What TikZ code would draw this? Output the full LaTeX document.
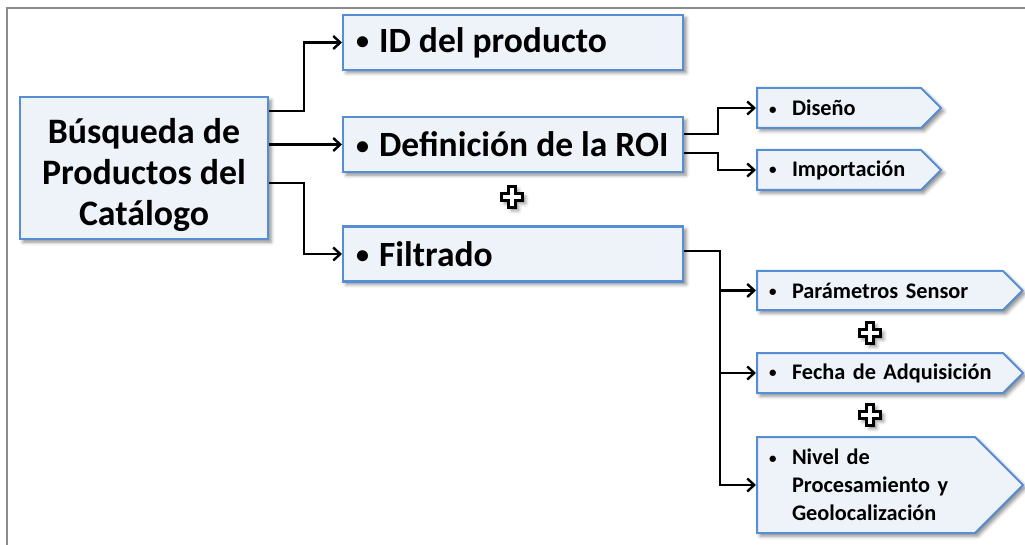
\documentclass[tikz,border=0pt]{standalone}
\usepackage{fontspec}
\setmainfont{Carlito}
\usetikzlibrary{arrows.meta,shapes.symbols,shadows.blur}
\definecolor{boxblue}{RGB}{85,142,213}
\definecolor{boxfill}{RGB}{238,243,250}
\definecolor{framegray}{RGB}{140,140,140}
\tikzset{
 shad/.style={blur shadow={shadow xshift=3pt,shadow yshift=-3pt,shadow blur radius=3.5pt,shadow opacity=45}},
 mainbox/.style={draw=boxblue,fill=boxfill,line width=2.2pt,shad,minimum width=248pt,minimum height=142pt},
 maintext/.style={align=center,inner sep=0pt,font=\fontsize{35.8}{41}\selectfont\bfseries},
 bigbox/.style={draw=boxblue,fill=boxfill,line width=2.2pt,shad,anchor=west,minimum height=55pt,inner xsep=13pt,font=\fontsize{35.5}{40}\selectfont\bfseries},
 sigbox/.style={shape=signal,signal to=east,signal pointer angle=90,draw=boxblue,fill=boxfill,line width=2pt,shad,anchor=west,inner xsep=12pt,inner ysep=2pt,align=left,font=\fontsize{22.3}{28}\selectfont\bfseries},
 conn/.style={line width=2.4pt,-{Straight Barb[length=7pt,width=13pt]}},
 pics/plussign/.style={code={
   \draw[line width=3pt,fill=white,draw=black,line join=miter,shad]
     (-3.5,-10.5) -- (3.5,-10.5) -- (3.5,-3.5) -- (10.5,-3.5) -- (10.5,3.5) -- (3.5,3.5) -- (3.5,10.5)
     -- (-3.5,10.5) -- (-3.5,3.5) -- (-10.5,3.5) -- (-10.5,-3.5) -- (-3.5,-3.5) -- cycle;
 }}
}
\newcommand{\bigbul}[1]{\makebox[314pt][l]{\makebox[23pt][l]{\raisebox{2.5pt}{\fontsize{26}{26}\selectfont •}}#1}}
\newcommand{\bul}{\makebox[23pt][l]{\raisebox{1.6pt}{\fontsize{15}{15}\selectfont •}}}
\begin{document}
\begin{tikzpicture}[x=1pt,y=-1pt]
\useasboundingbox (0,0) rectangle (1025,545);
\draw[framegray,line width=1.5pt] (1025,8) -- (7,8) -- (7,545);

\node[mainbox] (main) at (144,168) {};
\node[maintext] (maintxt) at (144,175) {Búsqueda de\\Productos del\\Catálogo};
\node[bigbox] (id) at (342,42.5) {\bigbul{ID del producto}};
\node[bigbox] (roi) at (342,144.5) {\bigbul{Definición de la ROI}};
\node[bigbox] (fil) at (342,254) {\bigbul{Filtrado}};

\node[sigbox,text width=140pt,minimum height=40pt] (dis) at (756,108) {\mbox{\bul Diseño}};
\node[sigbox,text width=140pt,minimum height=40pt] (imp) at (756,170) {\mbox{\bul Importación}};
\node[sigbox,text width=222pt,minimum height=39pt] (par) at (756,290.5) {\mbox{\bul Parámetros Sensor}};
\node[sigbox,text width=222pt,minimum height=40pt] (fec) at (756,373) {\mbox{\bul Fecha de Adquisición}};
\node[sigbox,text width=194pt,minimum height=96pt] (niv) at (756,485) {\mbox{\bul Nivel de}\\\mbox{\hspace*{23pt}Procesamiento y}\\\mbox{\hspace*{23pt}Geolocalización}};

\pic at (512,197) {plussign};
\pic at (870,333) {plussign};
\pic at (870,415) {plussign};

\draw[conn] (main.east |- 0,111) -- (304,111) |- (id.west);
\draw[conn] (main.east |- roi.west) -- (roi.west);
\draw[conn] (main.east |- 0,183) -- (304,183) |- (fil.west);

\draw[conn] (roi.east |- 0,134) -- (718,134) |- (dis.west);
\draw[conn] (roi.east |- 0,153) -- (718,153) |- (imp.west);

\coordinate (fx) at (720,251);
\draw[conn] (fil.east |- fx) -- (fx) |- (niv.west);
\draw[conn] (fx |- par.west) -- (par.west);
\draw[conn] (fx |- fec.west) -- (fec.west);
\end{tikzpicture}
\end{document}
